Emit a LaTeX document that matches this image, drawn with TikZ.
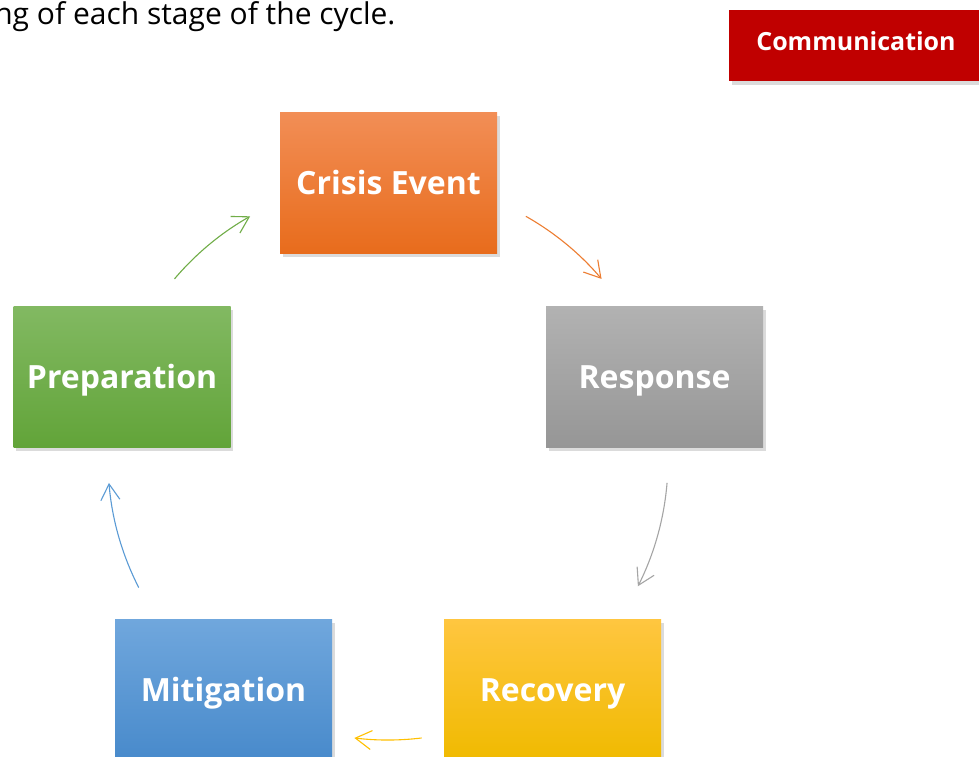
\documentclass[tikz,border=0pt]{standalone}
\usepackage{fontspec}
\setmainfont{Open Sans}
\usetikzlibrary{arrows.meta,shadows}

\definecolor{crisistop}{RGB}{242,142,86}
\definecolor{crisisbot}{RGB}{232,108,28}
\definecolor{resptop}{RGB}{178,178,178}
\definecolor{respbot}{RGB}{150,150,150}
\definecolor{recovtop}{RGB}{255,198,64}
\definecolor{recovbot}{RGB}{240,186,0}
\definecolor{mitigtop}{RGB}{112,167,221}
\definecolor{mitigbot}{RGB}{72,138,203}
\definecolor{preptop}{RGB}{130,185,98}
\definecolor{prepbot}{RGB}{98,164,57}
\definecolor{commred}{RGB}{192,0,0}
\definecolor{greenarr}{RGB}{112,173,71}
\definecolor{orangearr}{RGB}{237,125,49}
\definecolor{grayarr}{RGB}{165,165,165}
\definecolor{yellowarr}{RGB}{255,192,0}
\definecolor{bluearr}{RGB}{91,155,213}

\tikzset{
  stage/.style={minimum width=217pt, minimum height=141pt, inner sep=0pt,
    text=white, font=\fontsize{32}{38}\selectfont\bfseries,
    text height=23pt, text depth=0pt,
    drop shadow={shadow xshift=2.5pt, shadow yshift=-3.5pt, opacity=.28}},
  flow/.style={line width=1.1pt, -{Straight Barb[length=16pt,width=19pt]}},
}

\begin{document}
\begin{tikzpicture}[x=1pt,y=-1pt]
  \clip (0,0) rectangle (979,756);
  \fill[white] (0,0) rectangle (979,756);

  \node[anchor=base east, font=\fontsize{30}{36}\selectfont] (intro) at (399,24)
    {ng of each stage of the cycle.};
  \node[stage, fill=commred, minimum width=254pt, minimum height=71pt,
        text height=17pt, text depth=8pt, font=\fontsize{25}{30}\selectfont\bfseries] (comm) at (856,45.5)
    {Communication};

  % the five stages of the cycle
  \coordinate (hub) at (388,460);
  \node[stage, top color=crisistop, bottom color=crisisbot] (crisis) at (388.5,182.5) {Crisis Event};
  \node[stage, top color=resptop, bottom color=respbot] (response) at (654.5,376.5) {Response};
  \node[stage, top color=recovtop, bottom color=recovbot] (recovery) at (552.5,689.5) {Recovery};
  \node[stage, top color=mitigtop, bottom color=mitigbot] (mitigation) at (223.5,689.5) {Mitigation};
  \node[stage, top color=preptop, bottom color=prepbot] (prep) at (122,376.5) {Preparation};

  % arcs between the stages
  \foreach \a/\b/\c in {-139.7/-119.5/greenarr, -60.5/-40.3/orangearr,
                        4.7/26.8/grayarr, 83.1/96.9/yellowarr, 152.9/175.3/bluearr}
    \draw[flow, \c] ([shift={(\a:280)}]hub) arc[start angle=\a, end angle=\b, radius=280];
\end{tikzpicture}
\end{document}
